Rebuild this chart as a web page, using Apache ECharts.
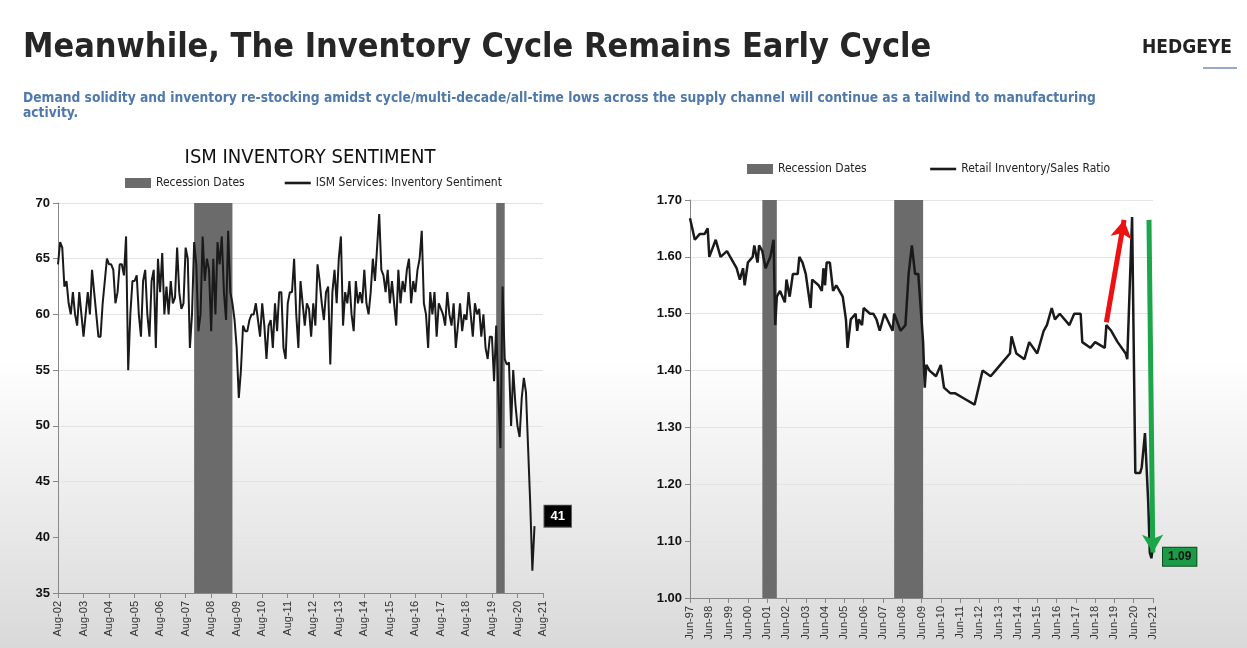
<!DOCTYPE html>
<html>
<head>
<meta charset="UTF-8" />
<script src="https://cdn.jsdelivr.net/npm/echarts@6/dist/echarts.min.js"></script>
<style>
  html, body { margin: 0; padding: 0; }
  #main { width: 1247px; height: 648px; background: linear-gradient(#ffffff 0%, #ffffff 55%, #d9d9d9 100%); }
</style>
</head>
<body>
<div id="main"></div>
<script>
// ISM services inventory sentiment, monthly index from Aug-02 (0)
var ismValues = [
  64.5, 66.5, 66, 62.5, 63, 61, 60, 62, 60, 59, 62, 60,
  58, 60, 62, 60, 64, 62, 60, 58, 58, 61, 63, 65,
  64.5, 64.5, 64, 61, 62, 64.5, 64.5, 63.5, 67, 55, 60, 63,
  63, 63.5, 60, 58, 63, 64, 60, 58, 63, 64, 57, 65,
  62, 65.5, 60, 62.5, 60, 63, 61, 61.5, 66, 62, 60.5, 61,
  66, 65, 57, 60, 66.5, 64.5, 58.5, 60, 67, 63, 65, 64,
  58.5, 65, 60, 66.5, 64.5, 67, 62, 59.5, 67.5, 62, 61, 59.5,
  57, 52.5, 55, 59, 58.5, 58.5, 59.5, 60, 60, 61, 59.5, 58,
  61, 59, 56, 59, 59.5, 57, 61, 58.5, 62, 62, 57, 56,
  61, 62, 62, 65, 60, 57, 63, 61, 59, 61, 60.5, 58,
  61, 59, 64.5, 63, 61, 59.5, 62, 62.5, 55.5, 62, 64, 61,
  65, 67, 59, 62, 61, 63, 60, 58.5, 63, 61, 62, 61,
  64, 61, 60, 62, 65, 63, 66, 69, 64, 63.5, 62, 64,
  61, 63, 61, 59, 64, 61, 63, 62, 64, 65, 61, 63,
  62, 64, 65, 67.5, 61, 60, 57, 62, 60, 62, 58, 61,
  60.5, 60, 59, 62, 60, 59, 61, 57, 59, 61, 58.5, 60,
  59.5, 62, 60, 58, 61, 60, 60.5, 58, 60, 57, 56, 58,
  58, 54, 59, 53, 48, 62.5, 56, 55.5,
  55.7, 50, 55, 52, 50, 49, 52.5, 54.3, 53, 48, 43, 37, 41
];
var ismRecessions = [[64, 82], [206, 210]];

// Retail inventory/sales ratio, month index from Jun-97 (0) to Jun-21 (288)
var retailMonths = [0, 3, 6, 9, 11, 12, 16, 19, 23, 25, 29, 31, 33, 34, 36, 39, 40, 42, 43, 45,
  47, 50, 52, 53, 54, 56, 59, 60, 62, 64, 67, 68, 70, 72, 75, 76, 80, 82, 83, 84,
  85, 87, 89, 91, 95, 97, 98, 100, 103, 104, 105, 107, 108, 112, 114, 116, 118, 121, 126, 127,
  131, 134, 136, 138, 140, 142, 145, 146, 147, 149, 153, 156, 158, 162, 165, 171, 177, 182, 187, 190,
  193, 199, 200, 203, 208, 211, 216, 220, 222, 225, 227, 230, 236, 239, 243, 244, 249, 252, 258, 259,
  262, 266, 271, 272, 275, 277, 280, 281, 283, 284, 285, 286, 287, 288];
var retailValues = [1.668, 1.63, 1.64, 1.64, 1.65, 1.60, 1.63, 1.60, 1.61, 1.60, 1.58, 1.56, 1.58, 1.55, 1.59, 1.60, 1.62, 1.59, 1.62, 1.61,
  1.58, 1.60, 1.63, 1.48, 1.53, 1.54, 1.52, 1.56, 1.53, 1.57, 1.57, 1.60, 1.59, 1.57, 1.51, 1.56, 1.55, 1.54, 1.58, 1.55,
  1.59, 1.59, 1.54, 1.55, 1.53, 1.49, 1.44, 1.49, 1.50, 1.47, 1.49, 1.48, 1.51, 1.50, 1.50, 1.49, 1.47, 1.50, 1.47, 1.50,
  1.47, 1.48, 1.57, 1.62, 1.57, 1.57, 1.45, 1.37, 1.41, 1.40, 1.39, 1.41, 1.37, 1.36, 1.36, 1.35, 1.34, 1.40, 1.39, 1.40,
  1.41, 1.43, 1.46, 1.43, 1.42, 1.45, 1.43, 1.47, 1.48, 1.51, 1.49, 1.50, 1.48, 1.50, 1.50, 1.45, 1.44, 1.45, 1.44, 1.48,
  1.47, 1.45, 1.43, 1.42, 1.67, 1.22, 1.22, 1.23, 1.29, 1.23, 1.17, 1.08, 1.07, 1.09];
var retailRecessions = [[45, 54], [127, 145]];

function pad(n) { return (n < 10 ? '0' : '') + n; }
function pairs(xs, ys) { return xs.map(function (x, i) { return [x, ys[i]]; }); }
function bands(list) { return list.map(function (b) { return [{ xAxis: b[0] }, { xAxis: b[1] }]; }); }

var narrow = 'DejaVu Sans Condensed, Liberation Sans, sans-serif';
var axisLabelX = { rotate: 90, fontSize: 11, color: '#333', fontFamily: 'Liberation Sans' };
var axisLabelY = { fontSize: 13, fontWeight: 'bold', color: '#111', fontFamily: 'Liberation Sans' };

var option = {
  animation: false,
  title: [
    { text: 'Meanwhile, The Inventory Cycle Remains Early Cycle', left: 18, top: 26,
      textStyle: { fontFamily: narrow, fontWeight: 'bold', fontSize: 34, color: '#262626' } },
    { text: 'HEDGEYE', right: 10, top: 34,
      textStyle: { fontFamily: narrow, fontWeight: 'bold', fontSize: 19, color: '#222' } },
    { text: 'Demand solidity and inventory re-stocking amidst cycle/multi-decade/all-time lows across the supply channel will continue as a tailwind to manufacturing\nactivity.',
      left: 18, top: 86,
      textStyle: { fontFamily: narrow, fontWeight: 'bold', fontSize: 13.7, color: '#4f79ad', lineHeight: 15 } },
    { text: 'ISM INVENTORY SENTIMENT', left: 305, top: 143, textAlign: 'center',
      textStyle: { fontFamily: narrow, fontWeight: 'normal', fontSize: 20, color: '#111' } }
  ],
  graphic: [{ type: 'rect', shape: { x: 1203, y: 67, width: 34, height: 2 }, style: { fill: '#9aa7c7' } }],
  legend: [
    { left: 120, top: 172, itemWidth: 26, itemHeight: 10, itemGap: 40,
      textStyle: { fontSize: 12, color: '#222', fontFamily: narrow },
      data: [{ name: 'Recession Dates', icon: 'rect' }, { name: 'ISM Services: Inventory Sentiment', icon: 'path://M0,0H10V1H0Z' }] },
    { left: 742, top: 158, itemWidth: 26, itemHeight: 10, itemGap: 60,
      textStyle: { fontSize: 12, color: '#222', fontFamily: narrow },
      data: [{ name: 'Recession Dates ', icon: 'rect' }, { name: 'Retail Inventory/Sales Ratio', icon: 'path://M0,0H10V1H0Z' }] }
  ],
  grid: [
    { left: 58, width: 485, top: 203, height: 390 },
    { left: 690, width: 463, top: 200, height: 398 }
  ],
  xAxis: [
    { type: 'value', gridIndex: 0, min: 0, max: 228, interval: 12,
      axisLine: { lineStyle: { color: '#888' } }, axisTick: { show: true, lineStyle: { color: '#888' } },
      splitLine: { show: false }, axisLabel: Object.assign({ formatter: function (v) { return 'Aug-' + pad((2 + v / 12) % 100); } }, axisLabelX) },
    { type: 'value', gridIndex: 1, min: 0, max: 288, interval: 12,
      axisLine: { lineStyle: { color: '#888' } }, axisTick: { show: true, lineStyle: { color: '#888' } },
      splitLine: { show: false }, axisLabel: Object.assign({ formatter: function (v) { return 'Jun-' + pad((97 + v / 12) % 100); } }, axisLabelX) }
  ],
  yAxis: [
    { type: 'value', gridIndex: 0, min: 35, max: 70, interval: 5,
      axisLine: { show: true, lineStyle: { color: '#888' } }, axisTick: { show: true, lineStyle: { color: '#888' } },
      splitLine: { lineStyle: { color: '#e4e4e4' } }, axisLabel: axisLabelY },
    { type: 'value', gridIndex: 1, min: 1.0, max: 1.7, interval: 0.1,
      axisLine: { show: true, lineStyle: { color: '#888' } }, axisTick: { show: true, lineStyle: { color: '#888' } },
      splitLine: { lineStyle: { color: '#e4e4e4' } },
      axisLabel: Object.assign({ formatter: function (v) { return v.toFixed(2); } }, axisLabelY) }
  ],
  series: [
    { name: 'Recession Dates', type: 'line', xAxisIndex: 0, yAxisIndex: 0, data: [], color: '#6b6b6b',
      markArea: { silent: true, itemStyle: { color: '#6b6b6b' }, data: bands(ismRecessions) } },
    { name: 'ISM Services: Inventory Sentiment', type: 'line', xAxisIndex: 0, yAxisIndex: 0, color: '#1a1a1a',
      showSymbol: false, lineStyle: { width: 2, color: '#1a1a1a' },
      data: ismValues.map(function (v, i) { return [i, v]; }),
      endLabel: { show: true, formatter: function (p) { return String(p.value[1]); }, offset: [2, -10],
        backgroundColor: '#000', color: '#fff', fontWeight: 'bold', fontSize: 13, padding: [4, 6], borderColor: '#555', borderWidth: 1 } },
    { name: 'Recession Dates ', type: 'line', xAxisIndex: 1, yAxisIndex: 1, data: [], color: '#6b6b6b',
      markArea: { silent: true, itemStyle: { color: '#6b6b6b' }, data: bands(retailRecessions) } },
    { name: 'Retail Inventory/Sales Ratio', type: 'line', xAxisIndex: 1, yAxisIndex: 1, color: '#1a1a1a',
      showSymbol: false, lineStyle: { width: 2.5, color: '#1a1a1a' },
      data: pairs(retailMonths, retailValues),
      endLabel: { show: true, formatter: function (p) { return p.value[1].toFixed(2); }, offset: [2, 10],
        backgroundColor: '#1b9a47', color: '#111', fontSize: 12, fontWeight: 'bold', padding: [3, 5], borderColor: '#0c4d22', borderWidth: 1 },
      markLine: { silent: true, symbol: ['none', 'arrow'], symbolSize: [16, 18], label: { show: false },
        data: [
          [{ coord: [259, 1.485], lineStyle: { color: '#ee1111', width: 5, type: 'solid' } }, { coord: [270, 1.665] }],
          [{ coord: [285.5, 1.665], lineStyle: { color: '#1ca64a', width: 5, type: 'solid' } }, { coord: [287.9, 1.08] }]
        ] } }
  ]
};

var myChart = echarts.init(document.getElementById('main'));
myChart.setOption(option);
</script>
</body>
</html>
